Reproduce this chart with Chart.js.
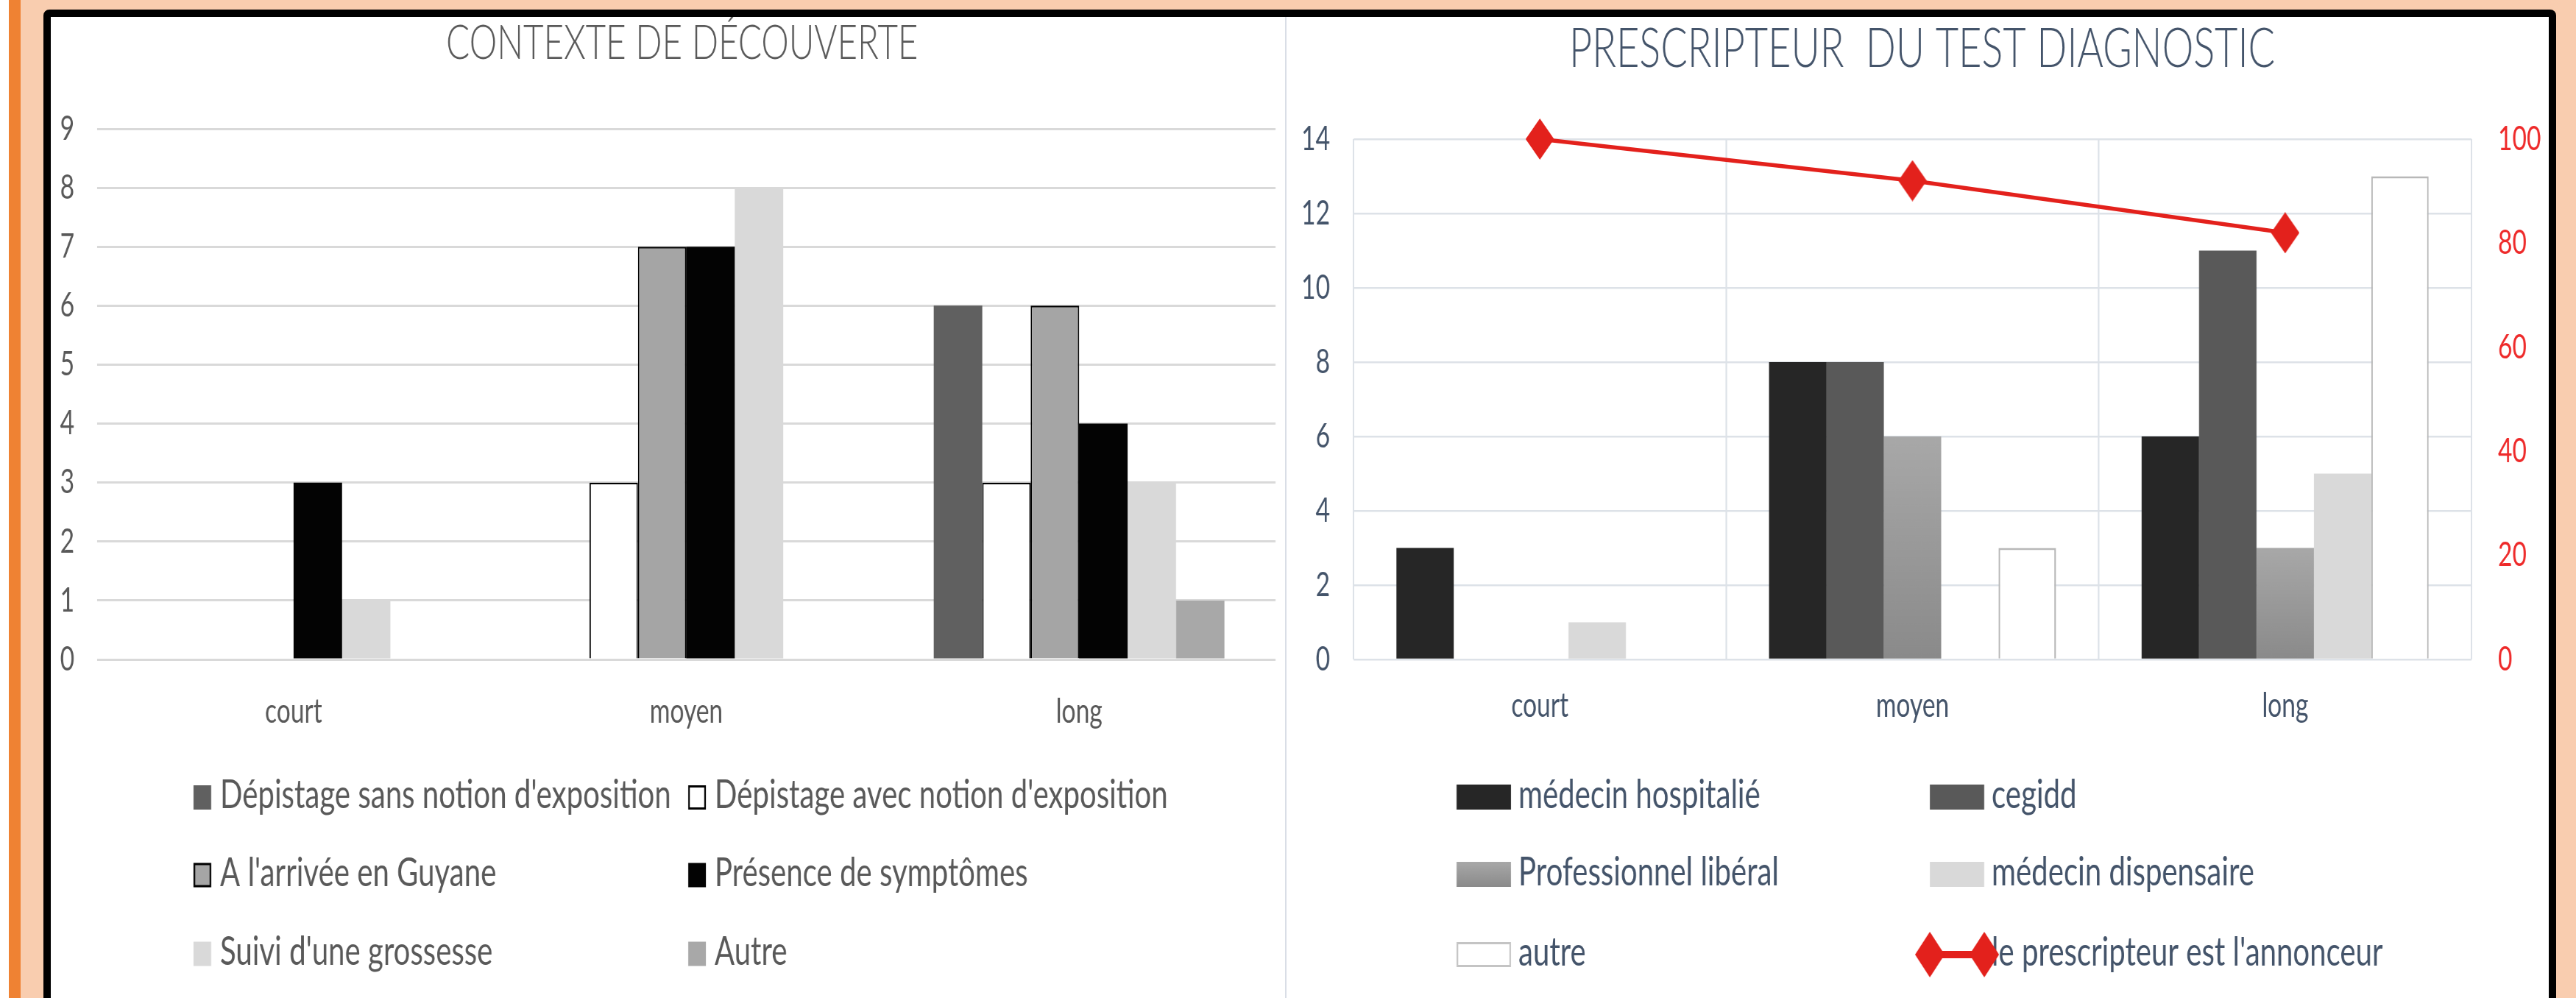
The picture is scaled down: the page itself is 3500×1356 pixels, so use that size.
<!DOCTYPE html>
<html lang="fr">
<head>
  <meta charset="UTF-8">
  <title>Contexte de découverte / Prescripteur du test diagnostic</title>
  <script src="https://cdn.jsdelivr.net/npm/chart.js"></script>
  <style>
    html, body { margin: 0; padding: 0; background: #fff; }
    body { width: 3500px; height: 1356px; position: relative; overflow: hidden; font-family: Lato, sans-serif; }
    .orange { position: absolute; left: 12px; top: 0; width: 16px; height: 1356px; background: #ef8233; }
    .peach { position: absolute; left: 28px; top: 0; right: 0; height: 1356px; background: #f9cdaf; }
    .frame { position: absolute; left: 59px; top: 13px; width: 3394px; height: 1400px; border: 10px solid #000; border-radius: 8px; background: #fff; }
    .divider { position: absolute; left: 1746px; top: 23px; width: 2px; height: 1333px; background: #d9dee6; }
    .panel { position: absolute; transform-origin: 0 0; }
  </style>
</head>
<body>
  <div class="orange"></div>
  <div class="peach"></div>
  <div class="frame"></div>
  <div class="divider"></div>

  <div class="panel" id="leftPanel"><canvas id="contexteChart"></canvas></div>
  <div class="panel" id="rightPanel"><canvas id="prescripteurChart"></canvas></div>

  <script>
    // ---- data ----
    const categories = ['court', 'moyen', 'long'];

    // Contexte de découverte
    const depistageSans = [0, 0, 6];
    const depistageAvec = [0, 3, 3];
    const arriveeGuyane = [0, 7, 6];
    const symptomes = [3, 7, 4];
    const grossesse = [1, 8, 3];
    const autreContexte = [0, 0, 1];
    const contexteAxis = [0, 9, 1];   // min, max, step

    // Prescripteur du test diagnostic
    const medecinHospitalier = [3, 8, 6];
    const cegidd = [0, 8, 11];
    const liberal = [0, 6, 3];
    const dispensaire = [1, 0, 5];
    const autrePrescripteur = [0, 3, 13];
    const annonceur = [100, 92, 82];   // % , right axis
    const prescripteurAxis = [0, 14, 2];
    const annonceurAxis = [0, 100, 20];

    // ---- layout ----
    // the picture is squeezed horizontally, so the canvases are drawn wider and squeezed back
    const S = 0.73;
    const TOP = 23, H = 1333;
    const LEFT = { x: 69, w: 1677 };
    const RIGHT = { x: 1748, w: 1715 };
    const lpx = v => (v - LEFT.x) / S;
    const rpx = v => (v - RIGHT.x) / S;

    function place(id, p) {
      const el = document.getElementById(id);
      el.style.left = p.x + 'px';
      el.style.top = TOP + 'px';
      el.style.width = (p.w / S) + 'px';
      el.style.height = H + 'px';
      el.style.transform = 'scaleX(' + S + ')';
    }
    place('leftPanel', LEFT);
    place('rightPanel', RIGHT);

    Chart.defaults.font.family = 'Lato';
    Chart.defaults.animation = false;

    function diamond(w, h, color) {
      const c = document.createElement('canvas');
      c.width = w; c.height = h;
      const g = c.getContext('2d');
      g.fillStyle = color;
      g.beginPath();
      g.moveTo(w / 2, 0); g.lineTo(w, h / 2); g.lineTo(w / 2, h); g.lineTo(0, h / 2);
      g.closePath();
      g.fill();
      return c;
    }

    // two-column legend like the Excel one
    function gridLegend(cfg) {
      return {
        id: 'gridLegend',
        afterDraw(chart) {
          const g = chart.ctx;
          g.save();
          g.font = cfg.font;
          g.fillStyle = cfg.color;
          g.textBaseline = 'middle';
          g.textAlign = 'left';
          const datasets = chart.data.datasets;
          datasets.forEach((ds, i) => {
            const x = cfg.cols[i % 2], y = cfg.rows[Math.floor(i / 2)];
            g.fillText(ds.label, x + cfg.boxW + cfg.gap, y + cfg.textShift);
          });
          datasets.forEach((ds, i) => {
            const x = cfg.cols[i % 2], y = cfg.rows[Math.floor(i / 2)];
            if (ds.type === 'line') {
              g.strokeStyle = ds.borderColor;
              g.lineWidth = 10;
              g.beginPath(); g.moveTo(x, y); g.lineTo(x + cfg.boxW, y); g.stroke();
              const d = cfg.keyDiamond;
              g.drawImage(d, x - d.width / 2, y - d.height / 2);
              g.drawImage(d, x + cfg.boxW - d.width / 2, y - d.height / 2);
              return;
            }
            const top = y - cfg.boxH / 2;
            let fill = ds.keyFill;
            if (Array.isArray(fill)) {
              const grad = g.createLinearGradient(0, top, 0, top + cfg.boxH);
              grad.addColorStop(0, fill[0]); grad.addColorStop(1, fill[1]);
              fill = grad;
            }
            g.fillStyle = fill;
            g.fillRect(x, top, cfg.boxW, cfg.boxH);
            if (ds.keyStroke) {
              g.strokeStyle = ds.keyStroke;
              g.lineWidth = 3;
              g.strokeRect(x + 1.5, top + 1.5, cfg.boxW - 3, cfg.boxH - 3);
            }
          });
          g.restore();
        }
      };
    }

    const edge = w => ctx => (ctx.raw ? w : 0);

    // ---- left chart ----
    new Chart(document.getElementById('contexteChart'), {
      type: 'bar',
      data: {
        labels: categories,
        datasets: [
          { label: "Dépistage sans notion d'exposition", data: depistageSans, backgroundColor: '#606060', keyFill: '#606060' },
          { label: "Dépistage avec notion d'exposition", data: depistageAvec, backgroundColor: '#ffffff', borderColor: '#000', borderWidth: edge(2.5), keyFill: '#fff', keyStroke: '#000' },
          { label: "A l'arrivée en Guyane", data: arriveeGuyane, backgroundColor: '#a5a5a5', borderColor: '#000', borderWidth: edge(2.5), keyFill: '#a5a5a5', keyStroke: '#000' },
          { label: 'Présence de symptômes', data: symptomes, backgroundColor: '#030303', keyFill: '#030303' },
          { label: "Suivi d'une grossesse", data: grossesse, backgroundColor: '#d9d9d9', keyFill: '#d9d9d9' },
          { label: 'Autre', data: autreContexte, backgroundColor: '#a8a8a8', keyFill: '#a8a8a8' }
        ]
      },
      options: {
        responsive: true,
        maintainAspectRatio: false,
        devicePixelRatio: 1,
        datasets: { bar: { categoryPercentage: 0.74, barPercentage: 1, borderSkipped: 'start' } },
        layout: { padding: { top: 0, left: 0, right: (LEFT.x + LEFT.w - 1733) / S, bottom: 340 } },
        scales: {
          x: {
            grid: { display: false },
            border: { display: false },
            ticks: { color: '#595959', font: { size: 46 }, padding: 36 },
            afterFit: s => { s.height = 120; }
          },
          y: {
            min: contexteAxis[0], max: contexteAxis[1],
            grid: { color: '#d9d9d9', lineWidth: 3, drawTicks: false },
            border: { display: false },
            ticks: { stepSize: contexteAxis[2], color: '#595959', font: { size: 46 }, padding: lpx(132) - lpx(101) },
            afterFit: s => { s.width = lpx(132); }
          }
        },
        plugins: {
          legend: { display: false },
          tooltip: { enabled: false },
          title: {
            display: true,
            // leading spaces push the title a little right of the panel centre, as in the picture
            text: '\u00a0\u00a0\u00a0\u00a0CONTEXTE DE DÉCOUVERTE',
            color: '#595959',
            font: { size: 65, weight: 300, lineHeight: 1 },
            padding: { top: 4, bottom: 83 }
          }
        }
      },
      plugins: [gridLegend({
        font: '55px Lato', color: '#595959',
        cols: [lpx(263), lpx(935)],
        rows: [1083.5 - TOP, 1189 - TOP, 1296 - TOP],
        boxW: 24 / S, boxH: 33, gap: 12 / S, textShift: -3
      })]
    });

    // ---- right chart ----
    const lineMarker = diamond(Math.round(39 / S), 56, '#e3211c');
    const keyMarker = diamond(Math.round(40 / S), 62, '#e3211c');

    const liberalFill = ctx => {
      const chart = ctx.chart;
      if (!chart.chartArea || ctx.type !== 'data') return '#999999';
      const y = chart.scales.y;
      const top = y.getPixelForValue(ctx.parsed.y), base = y.getPixelForValue(0);
      if (!(base > top)) return '#999999';
      const grad = chart.ctx.createLinearGradient(0, top, 0, base);
      grad.addColorStop(0, '#a8a8a8');
      grad.addColorStop(1, '#8a8a8a');
      return grad;
    };

    const rightPadL = 16.4;
    new Chart(document.getElementById('prescripteurChart'), {
      type: 'bar',
      data: {
        labels: categories,
        datasets: [
          { label: 'médecin hospitalié', data: medecinHospitalier, backgroundColor: '#262626', keyFill: '#262626', order: 1 },
          { label: 'cegidd', data: cegidd, backgroundColor: '#595959', keyFill: '#595959', order: 1 },
          { label: 'Professionnel libéral', data: liberal, backgroundColor: liberalFill, keyFill: ['#a8a8a8', '#8a8a8a'], order: 1 },
          { label: 'médecin dispensaire', data: dispensaire, backgroundColor: '#d9d9d9', keyFill: '#d9d9d9', order: 1 },
          { label: 'autre', data: autrePrescripteur, backgroundColor: '#ffffff', borderColor: '#b8b8b8', borderWidth: edge(3), keyFill: '#fff', keyStroke: '#c4c4c4', order: 1 },
          {
            type: 'line', label: "le prescripteur est l'annonceur", data: annonceur, yAxisID: 'y1', order: 0,
            borderColor: '#e3211c', borderWidth: 5.5, tension: 0, clip: false,
            pointStyle: lineMarker, pointRadius: 20, backgroundColor: '#e3211c'
          }
        ]
      },
      options: {
        responsive: true,
        maintainAspectRatio: false,
        devicePixelRatio: 1,
        datasets: { bar: { categoryPercentage: 0.77, barPercentage: 1, borderSkipped: 'start' } },
        layout: { padding: { top: 0, left: rightPadL, right: 0, bottom: 340 } },
        scales: {
          x: {
            grid: { color: '#dde2e8', lineWidth: 3, drawTicks: false },
            border: { display: false },
            ticks: { color: '#44546a', font: { size: 46 }, padding: 36 },
            afterFit: s => { s.height = 120; }
          },
          y: {
            min: prescripteurAxis[0], max: prescripteurAxis[1],
            grid: { color: '#dde2e8', lineWidth: 2.5, drawTicks: false },
            border: { display: false },
            ticks: { stepSize: prescripteurAxis[2], color: '#44546a', font: { size: 46 }, padding: rpx(1839) - rpx(1807) },
            afterFit: s => { s.width = rpx(1839) - rightPadL; }
          },
          y1: {
            position: 'right',
            min: annonceurAxis[0], max: annonceurAxis[1],
            grid: { display: false, drawTicks: false },
            border: { display: false },
            ticks: { stepSize: annonceurAxis[2], color: '#ee2a2a', font: { size: 46 }, padding: rpx(3394) - rpx(3358) },
            afterFit: s => { s.width = rpx(RIGHT.x + RIGHT.w) - rpx(3358); }
          }
        },
        plugins: {
          legend: { display: false },
          tooltip: { enabled: false },
          title: {
            display: true,
            text: 'PRESCRIPTEUR  DU TEST DIAGNOSTIC',
            color: '#44546a',
            font: { size: 74, weight: 300, lineHeight: 1 },
            padding: { top: 7.5, bottom: 84.5 }
          }
        }
      },
      plugins: [gridLegend({
        font: '55px Lato', color: '#44546a',
        cols: [rpx(1979), rpx(2622)],
        rows: [1083 - TOP, 1188 - TOP, 1297 - TOP],
        boxW: 74 / S, boxH: 34, gap: 10 / S, textShift: -3,
        keyDiamond: keyMarker
      })]
    });
  </script>
</body>
</html>
